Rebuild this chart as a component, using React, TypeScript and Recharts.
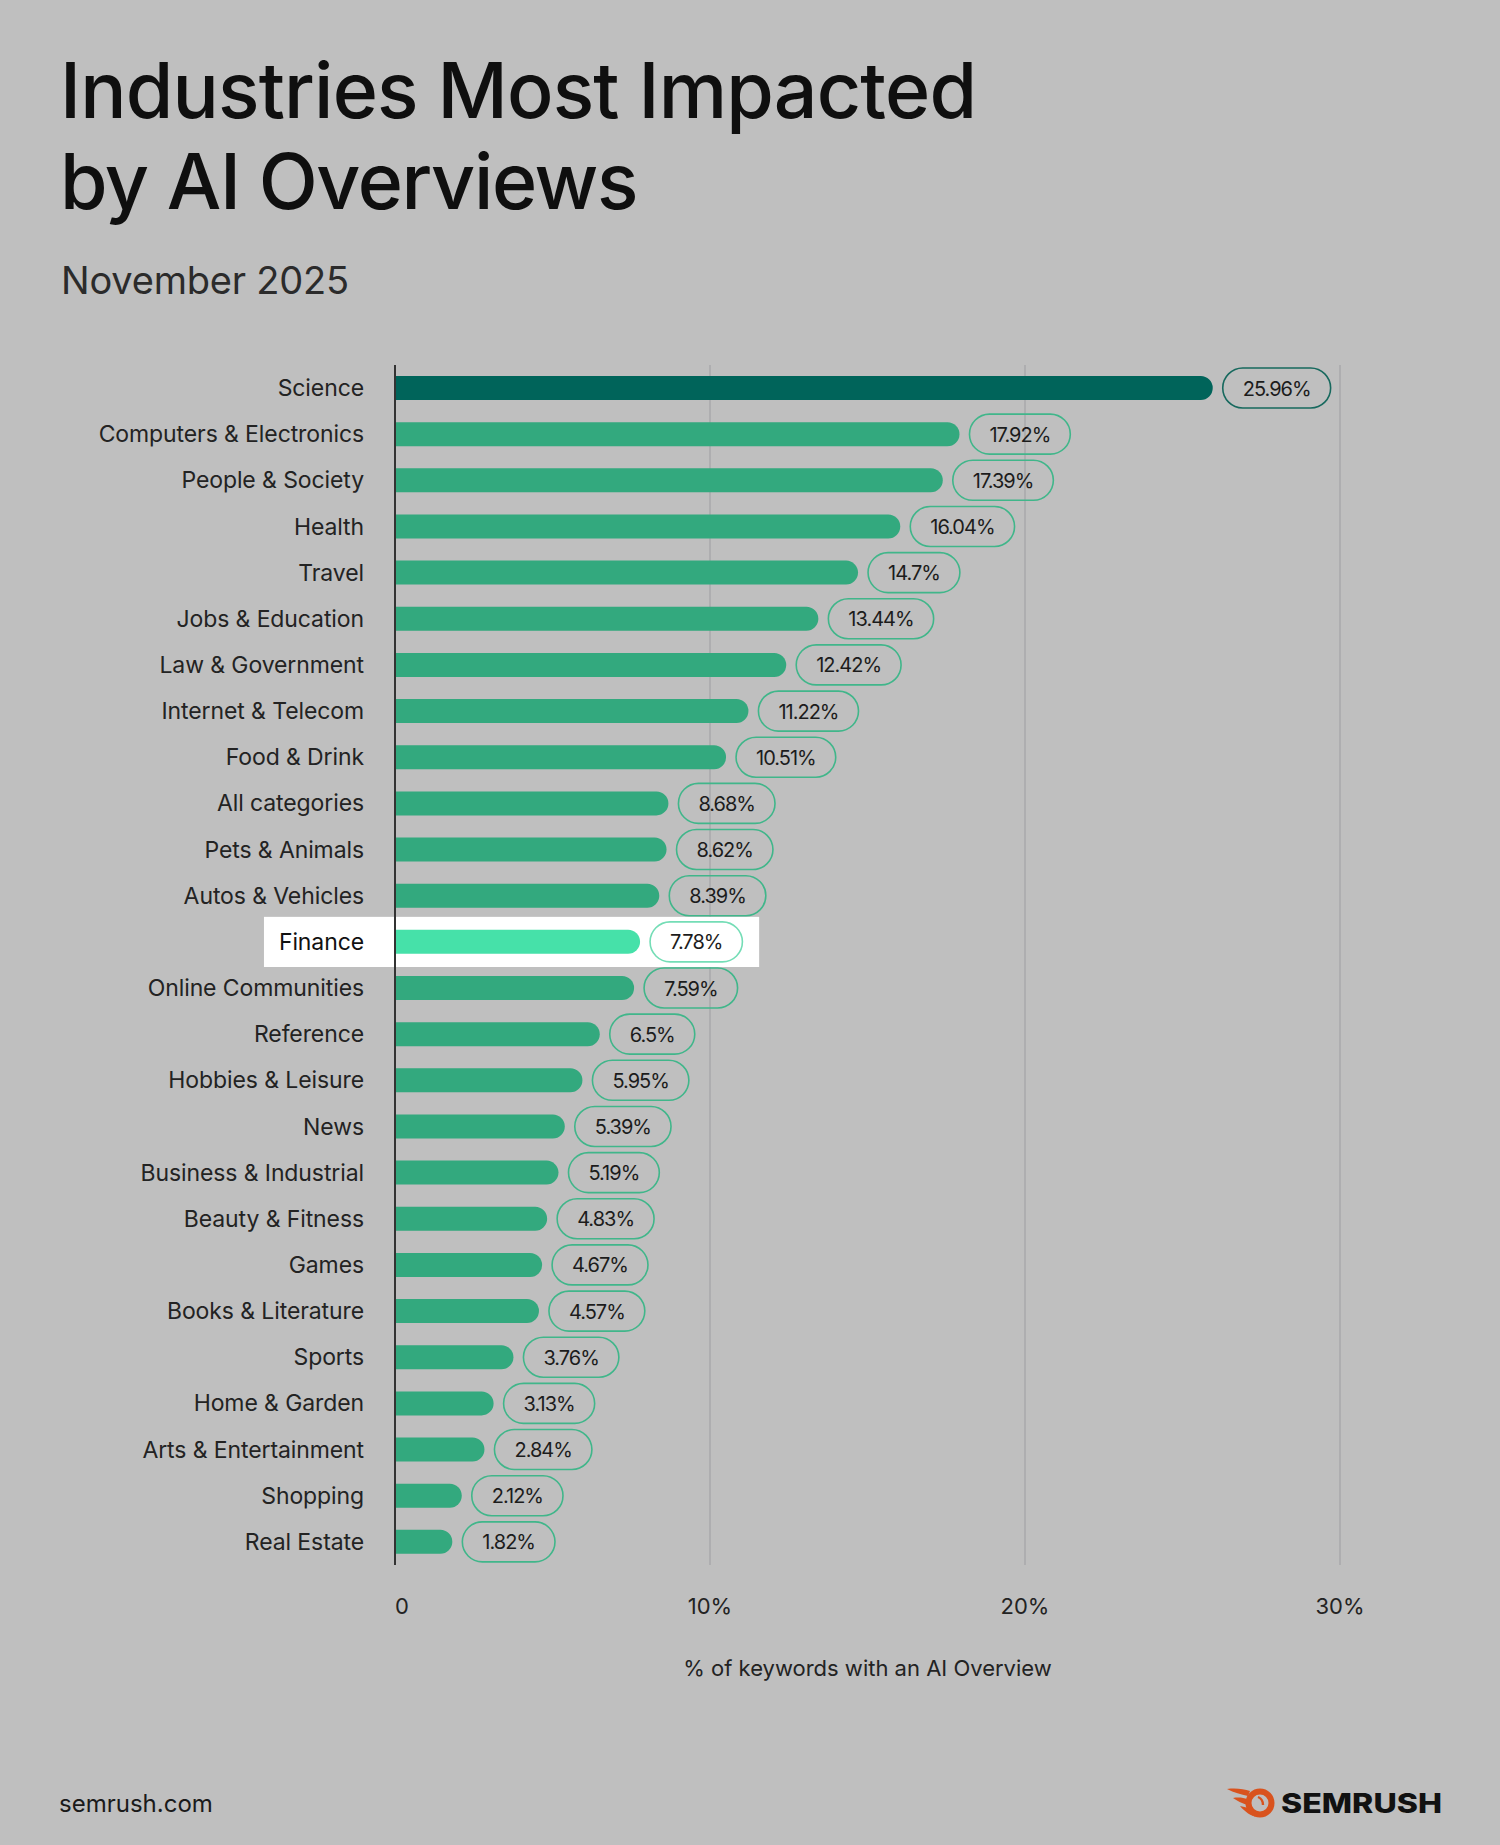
import React from "react";
import {
  BarChart,
  Bar,
  XAxis,
  YAxis,
  CartesianGrid,
  ReferenceArea,
  LabelList,
  Cell,
} from "recharts";

const industries = [
  "Science",
  "Computers & Electronics",
  "People & Society",
  "Health",
  "Travel",
  "Jobs & Education",
  "Law & Government",
  "Internet & Telecom",
  "Food & Drink",
  "All categories",
  "Pets & Animals",
  "Autos & Vehicles",
  "Finance",
  "Online Communities",
  "Reference",
  "Hobbies & Leisure",
  "News",
  "Business & Industrial",
  "Beauty & Fitness",
  "Games",
  "Books & Literature",
  "Sports",
  "Home & Garden",
  "Arts & Entertainment",
  "Shopping",
  "Real Estate",
];

const aioShare = [
  25.96, 17.92, 17.39, 16.04, 14.7, 13.44, 12.42, 11.22, 10.51, 8.68, 8.62,
  8.39, 7.78, 7.59, 6.5, 5.95, 5.39, 5.19, 4.83, 4.67, 4.57, 3.76, 3.13, 2.84,
  2.12, 1.82,
];

const xTicks = [0, 10, 20, 30];
const xTickLabels = ["0", "10%", "20%", "30%"];

const LEADER = "Science";
const HIGHLIGHT = "Finance";

const data = industries.map((name, i) => ({ name, share: aioShare[i] }));

const BG = "#bfbfbf";
const BAR = "#33a97e";
const BAR_LEADER = "#00645a";
const BAR_HIGHLIGHT = "#46e1a9";
const TEXT = "#232323";
const FONT = "Inter, 'Noto Sans', sans-serif";

const PILL_FONT_SIZE = 20;
const PILL_SPACING = -1;

// measure label text so each pill hugs its value
const measureCtx =
  typeof document !== "undefined"
    ? document.createElement("canvas").getContext("2d")
    : null;
function textWidth(s: string) {
  if (!measureCtx) return s.length * PILL_FONT_SIZE * 0.56;
  measureCtx.font = `400 ${PILL_FONT_SIZE}px Inter`;
  return measureCtx.measureText(s).width + (s.length - 1) * PILL_SPACING;
}

function ValuePill(props: any) {
  const vb = props.viewBox ?? props;
  const { x, y, width, height } = vb;
  const name = data[props.index]?.name;
  const label = `${props.value}%`;
  const w = textWidth(label) + 39;
  const px = x + width + 10;
  const cy = y + height / 2;
  let stroke = "#40b68a";
  let fill = "none";
  if (name === LEADER) stroke = "#17695e";
  if (name === HIGHLIGHT) {
    stroke = "#74ddb6";
    fill = "#ffffff";
  }
  return (
    <g>
      <rect
        x={px}
        y={cy - 20}
        width={w}
        height={40}
        rx={20}
        fill={fill}
        stroke={stroke}
        strokeWidth={1.6}
      />
      <text
        x={px + w / 2}
        y={cy + 7.5}
        textAnchor="middle"
        fontFamily={FONT}
        fontSize={PILL_FONT_SIZE}
        letterSpacing={PILL_SPACING}
        fill="#1c1c1c"
      >
        {label}
      </text>
    </g>
  );
}

function CategoryTick(props: any) {
  const { x, y, payload } = props;
  return (
    <text
      x={x}
      y={y + 8}
      textAnchor="end"
      fontFamily={FONT}
      fontSize={23}
      letterSpacing={-0.1}
      fill={payload.value === HIGHLIGHT ? "#111" : TEXT}
    >
      {payload.value}
    </text>
  );
}

function PercentTick(props: any) {
  const { x, y, payload, index } = props;
  return (
    <text
      x={x + (payload.value === 0 ? 7 : 0)}
      y={y + 47}
      textAnchor="middle"
      fontFamily={FONT}
      fontSize={22}
      fill={TEXT}
    >
      {xTickLabels[index]}
    </text>
  );
}

function HighlightBand(props: any) {
  const { x, y, width, height } = props;
  return <rect x={x} y={y - 2} width={width} height={height + 4} fill="#ffffff" />;
}

function Logo() {
  return (
    <g>
      <path
        d="M1227 1789 C1236 1788 1244 1789 1250 1791 L1248 1796 C1241 1794 1234 1793 1227 1789 Z"
        fill="#d9531e"
      />
      <path
        d="M1233 1798 C1239 1797 1244 1798 1247 1799 L1247 1805 C1242 1803 1237 1801 1233 1798 Z"
        fill="#d9531e"
      />
      <path
        d="M1240 1806 C1243 1807 1246 1807 1248 1808 C1250 1813 1253 1816 1257 1817 C1251 1816 1245 1812 1240 1806 Z"
        fill="#d9531e"
      />
      <circle cx={1260} cy={1803} r={11.5} fill="none" stroke="#d9531e" strokeWidth={6} />
      <path d="M1258 1797 Q1263 1799 1263 1805" fill="none" stroke="#d9531e" strokeWidth={2.4} />
      <text
        x={1281}
        y={1813}
        fontFamily="Inter, sans-serif"
        fontWeight={800}
        fontSize={27}
        textLength={161}
        lengthAdjust="spacingAndGlyphs"
        fill="#111"
      >
        SEMRUSH
      </text>
    </g>
  );
}

export default function App() {
  return (
    <div
      style={{
        position: "absolute",
        left: 0,
        top: 0,
        width: 1500,
        height: 1845,
        background: BG,
        overflow: "hidden",
        fontFamily: FONT,
      }}
    >
      <svg
        width={1500}
        height={1845}
        style={{ position: "absolute", left: 0, top: 0 }}
      >
        <text x={60} y={118} fontFamily={FONT} fontWeight={500} fontSize={77} letterSpacing={-0.8} fill="#0f0f0f">
          Industries Most Impacted
        </text>
        <text x={60} y={209} fontFamily={FONT} fontWeight={500} fontSize={77} letterSpacing={-1.4} fill="#0f0f0f">
          by AI Overviews
        </text>
        <text x={61} y={294} fontFamily={FONT} fontWeight={400} fontSize={38} letterSpacing={-0.2} fill="#2b2b2b">
          November 2025
        </text>
        <text x={59} y={1812} fontFamily={FONT} fontSize={24} fill="#1a1a1a">
          semrush.com
        </text>
        <Logo />
      </svg>
      <div style={{ position: "absolute", left: 0, top: 0 }}>
        <BarChart
          width={1500}
          height={1700}
          data={data}
          layout="vertical"
          margin={{ top: 365, right: 160, bottom: 15, left: 0 }}
          barCategoryGap={0}
        >
          <CartesianGrid horizontal={false} stroke="#a8a9ab" strokeWidth={1.5} />
          <ReferenceArea
            y1={HIGHLIGHT}
            y2={HIGHLIGHT}
            x1={-4.16}
            x2={11.56}
            ifOverflow="visible"
            fill="#ffffff"
            fillOpacity={1}
            shape={HighlightBand}
          />
          <XAxis
            type="number"
            domain={[0, 30]}
            ticks={xTicks}
            axisLine={false}
            tickLine={false}
            tickSize={0}
            height={120}
            tick={PercentTick}
            label={{
              value: "% of keywords with an AI Overview",
              position: "insideBottom",
              offset: 9,
              fill: TEXT,
              fontSize: 22,
              fontFamily: FONT,
            }}
          />
          <YAxis
            type="category"
            dataKey="name"
            width={395}
            axisLine={{ stroke: "#333", strokeWidth: 2 }}
            tickLine={false}
            tickSize={0}
            tickMargin={31}
            interval={0}
            tick={CategoryTick}
          />
          <Bar
            dataKey="share"
            barSize={24}
            radius={[0, 12, 12, 0]}
            isAnimationActive={false}
          >
            {data.map((d) => (
              <Cell
                key={d.name}
                fill={
                  d.name === LEADER
                    ? BAR_LEADER
                    : d.name === HIGHLIGHT
                    ? BAR_HIGHLIGHT
                    : BAR
                }
              />
            ))}
            <LabelList dataKey="share" content={ValuePill} />
          </Bar>
        </BarChart>
      </div>
    </div>
  );
}
